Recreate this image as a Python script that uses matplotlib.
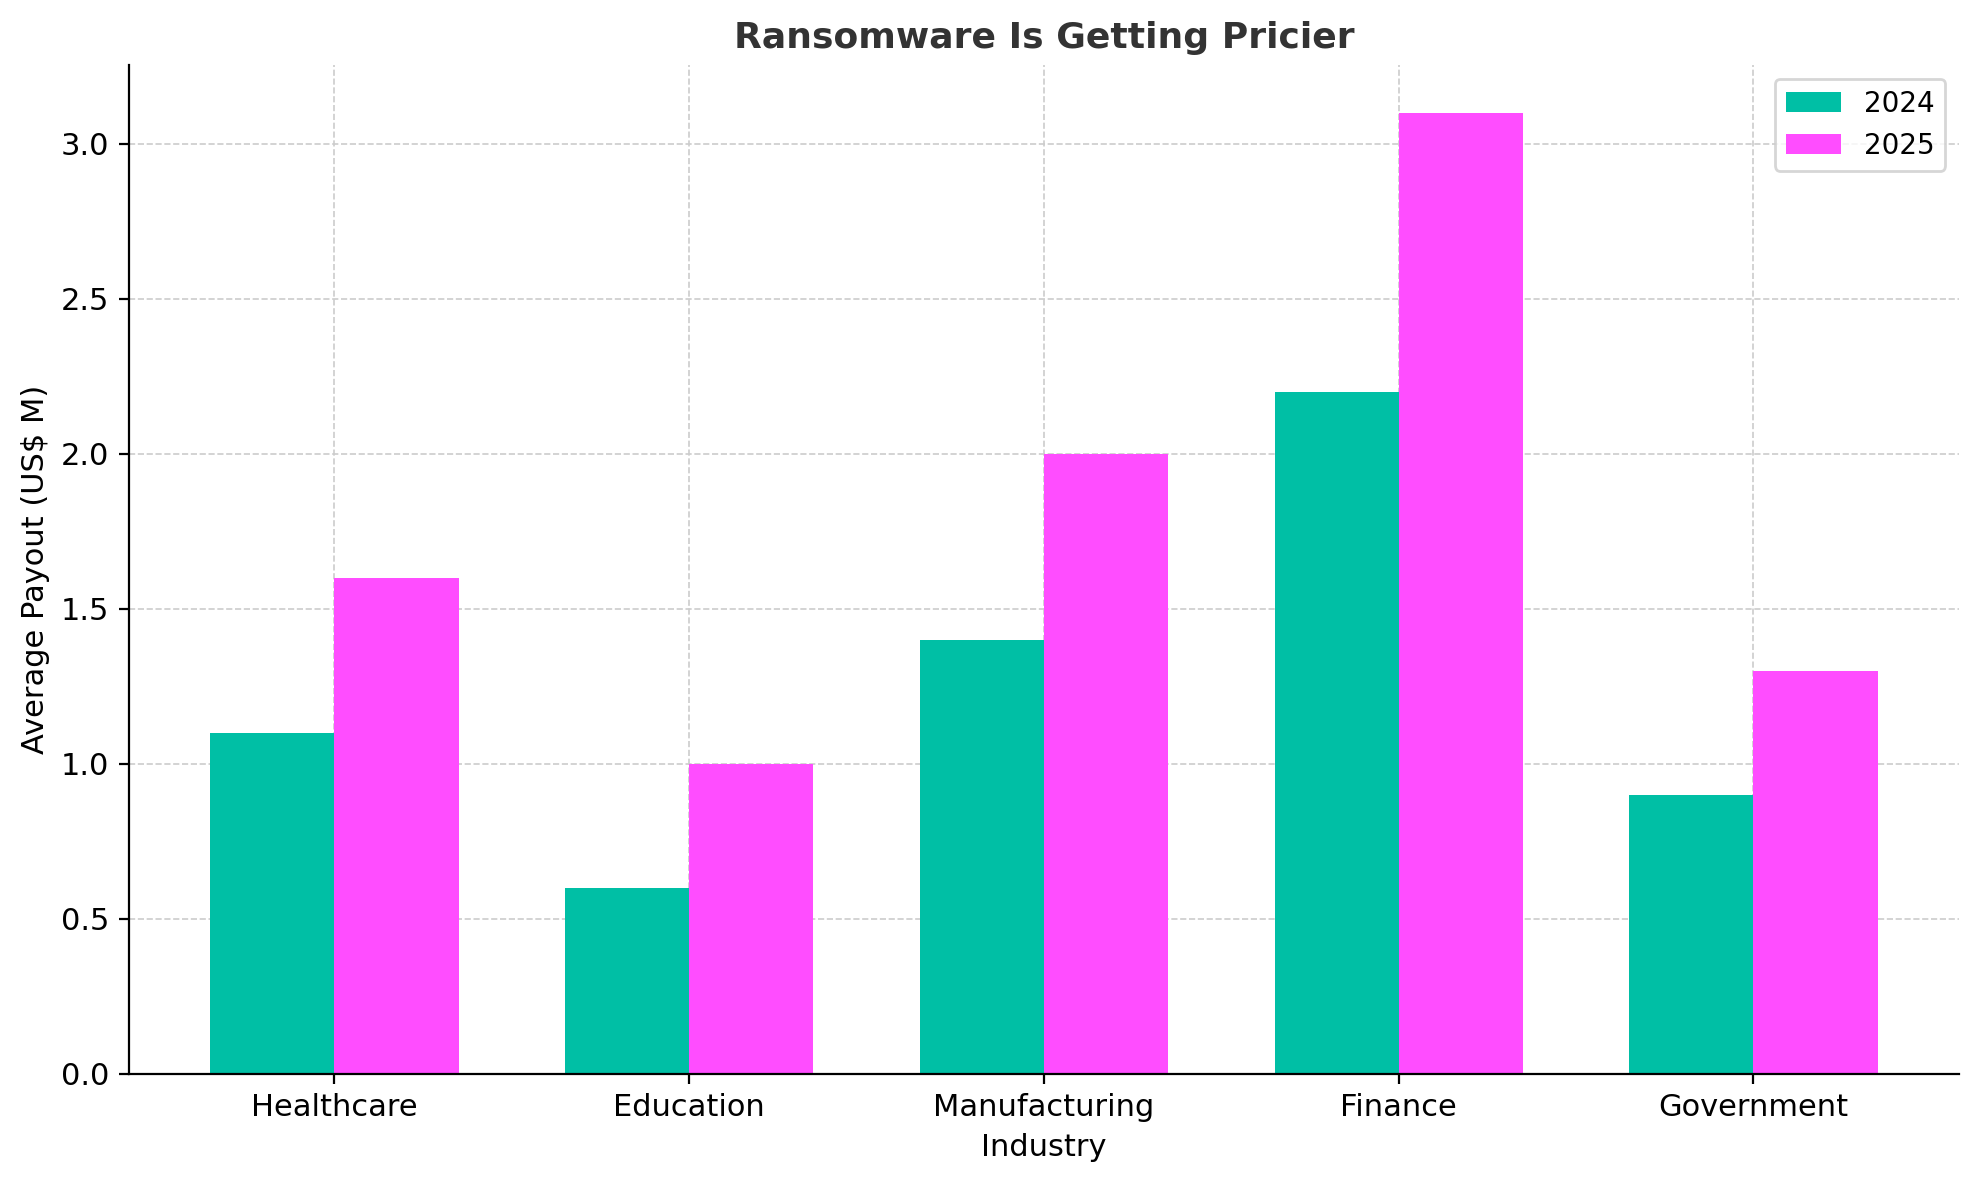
import matplotlib
matplotlib.use("Agg")
import matplotlib.pyplot as plt
import numpy as np

categories = ["Healthcare", "Education", "Manufacturing", "Finance", "Government"]
series_2024 = [1.1, 0.6, 1.4, 2.2, 0.9]
series_2025 = [1.6, 1.0, 2.0, 3.1, 1.3]

fig, ax = plt.subplots(figsize=(9.895, 5.9), dpi=200)
x = np.arange(len(categories))
w = 0.35
ax.bar(x - w/2, series_2024, w, color="#00BFA5", label="2024", zorder=2)
ax.bar(x + w/2, series_2025, w, color="#FF4DFF", label="2025", zorder=2)
ax.set_xticks(x)
ax.set_xticklabels(categories, fontsize=11)
ax.tick_params(axis="y", labelsize=11)
ax.set_xlabel("Industry", fontsize=11)
ax.set_ylabel("Average Payout (US$ M)", fontsize=11)
ax.set_title("Ransomware Is Getting Pricier", fontsize=13, fontweight="bold", color="#333333")
ax.set_ylim(0, 3.255)
ax.set_xlim(-0.58, 4.58)
ax.grid(True, linestyle="--", color="#cccccc", linewidth=0.6, zorder=0)
ax.spines["top"].set_visible(False)
ax.spines["right"].set_visible(False)
ax.legend(loc="upper right", fontsize=10)
fig.subplots_adjust(left=0.065, right=0.99, top=0.945, bottom=0.09)
fig.savefig("out.png", dpi=200)
